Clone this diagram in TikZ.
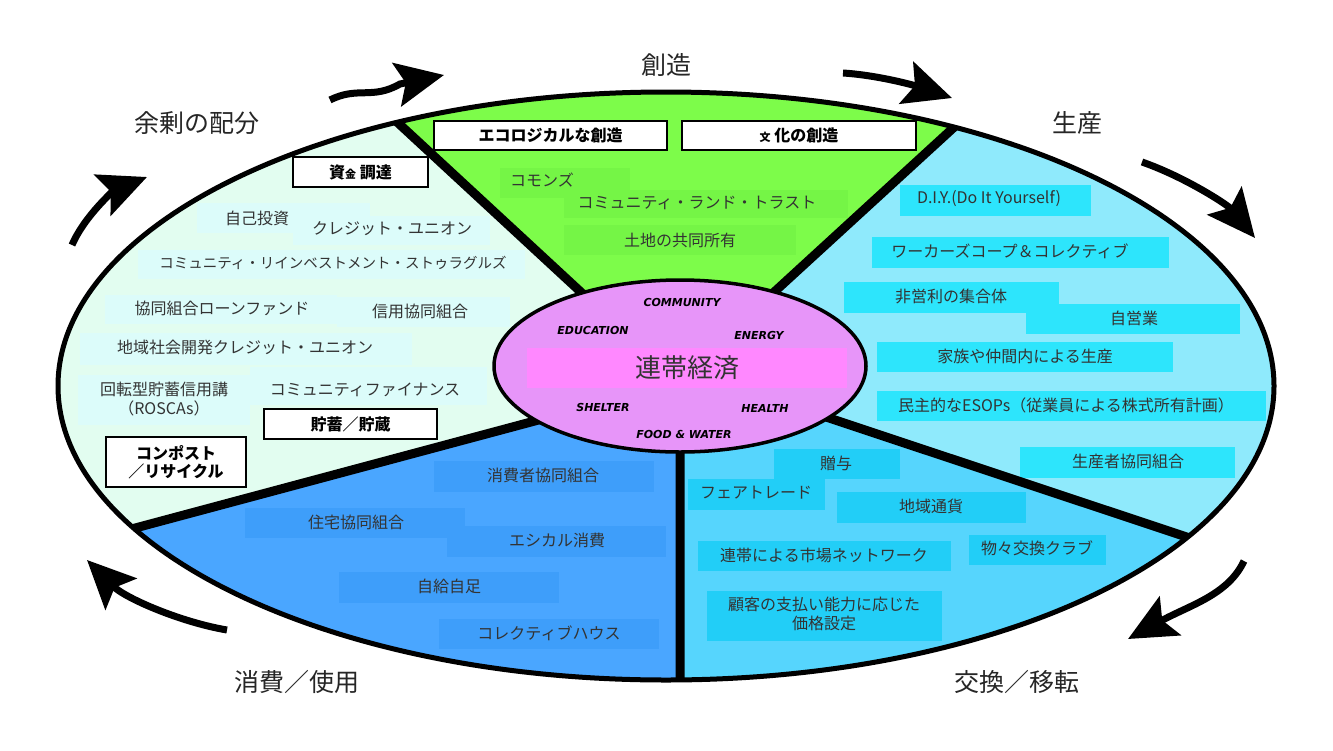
\documentclass[tikz,border=0pt]{standalone}
\usepackage{fontspec}
\setmainfont{Noto Sans CJK JP}
\newfontfamily\capsfont{DejaVu Sans}
\usetikzlibrary{arrows.meta}
\usepackage{xcolor}
\definecolor{mintbg}{RGB}{226,253,240}
\definecolor{mintbox}{RGB}{220,252,250}
\definecolor{greenbg}{RGB}{125,252,74}
\definecolor{greenbox}{RGB}{117,245,70}
\definecolor{cyanbg}{RGB}{143,234,252}
\definecolor{cyanbox}{RGB}{45,229,252}
\definecolor{skybg}{RGB}{86,213,253}
\definecolor{skybox}{RGB}{34,206,247}
\definecolor{bluebg}{RGB}{74,166,255}
\definecolor{bluebox}{RGB}{62,158,250}
\definecolor{violetbg}{RGB}{231,149,249}
\definecolor{pinkbox}{RGB}{255,136,255}
\tikzset{
	>={Stealth[length=48pt, width=44pt, inset=9pt]},
	flow/.style={->, line width=7pt},
	divider/.style={line width=9pt},
	phase/.style={font=\fontsize{25}{28}\selectfont, text=black!85},
	entry/.style={font=\fontsize{16}{19}\selectfont, text=black!80, inner sep=0pt, align=center},
	titlebox/.style={draw, fill=white, line width=1.5pt, inner sep=0pt, align=center, font=\bfseries\fontsize{16}{18}\selectfont},
	need/.style={font=\capsfont\bfseries\itshape\fontsize{11}{13}\selectfont}}

\begin{document}
\begin{tikzpicture}[x=1pt, y=-1pt]
		\useasboundingbox (0,0) rectangle (1333,750);
		\coordinate (O) at (666,386);
		\coordinate (C) at (680,366);
		\coordinate (l1i) at (610,319); \coordinate (l1o) at (157,-100);
		\coordinate (l2i) at (748,316); \coordinate (l2o) at (1202,-100);
		\coordinate (l3i) at (775,400); \coordinate (l3o) at (1400,608);
		\coordinate (l4i) at (680,430); \coordinate (l4o) at (680,800);
		\coordinate (l5i) at (587,407); \coordinate (l5o) at (-100,591);
		
		%sectors
		\begin{scope}
			\clip (O) ellipse [x radius=608pt, y radius=294pt];
			\fill[mintbg] (O) ellipse [x radius=608pt, y radius=294pt];
			\fill[greenbg] (C) -- (l1i) -- (l1o) -- (l2o) -- (l2i) -- cycle;
			\fill[cyanbg] (C) -- (l2i) -- (l2o) -- (1400,-100) -- (l3o) -- (l3i) -- cycle;
			\fill[skybg] (C) -- (l3i) -- (l3o) -- (1400,800) -- (l4o) -- (l4i) -- cycle;
			\fill[bluebg] (C) -- (l4i) -- (l4o) -- (-100,800) -- (l5o) -- (l5i) -- cycle;
			
			%item boxes
			\foreach \xa/\ya/\xb/\yb in {197/203/370/233, 293/216/490/245, 138/250/525/279, 105/295/337/324, 337/297/510/327, 80/333/412/365, 78/375/250/425, 250/367/487/405}
				\fill[mintbox] (\xa,\ya) rectangle (\xb,\yb);
			\foreach \xa/\ya/\xb/\yb in {500/168/630/198, 564/190/848/218, 564/225/796/255}
				\fill[greenbox] (\xa,\ya) rectangle (\xb,\yb);
			\foreach \xa/\ya/\xb/\yb in {900/185/1091/216, 872/237/1169/268, 844/282/1059/313, 1026/304/1240/334, 877/342/1173/372, 877/391/1266/421, 1020/447/1235/478}
				\fill[cyanbox] (\xa,\ya) rectangle (\xb,\yb);
			\foreach \xa/\ya/\xb/\yb in {774/449/900/479, 688/479/825/510, 837/492/1026/523, 698/541/951/571, 969/535/1106/565, 707/591/942/641}
				\fill[skybox] (\xa,\ya) rectangle (\xb,\yb);
			\foreach \xa/\ya/\xb/\yb in {434/461/654/492, 245/508/465/538, 447/526/666/557, 339/572/559/603, 439/619/659/649}
				\fill[bluebox] (\xa,\ya) rectangle (\xb,\yb);
			
			\draw[divider] (l1i) -- (l1o) (l2i) -- (l2o) (l3i) -- (l3o) (l4i) -- (l4o) (l5i) -- (l5o);
		\end{scope}
		\draw[line width=5pt] (O) ellipse [x radius=608pt, y radius=294pt];
		
		%centre
		\draw[fill=violetbg, line width=3.5pt] (C) ellipse [x radius=186pt, y radius=86pt];
		\fill[pinkbox] (527,348) rectangle (847,388);
		\node[entry, font=\fontsize{26}{28}\selectfont] (core) at (687,368) {連帯経済};
		\node[need] (n1) at (682,302) {COMMUNITY};
		\node[need] (n2) at (593,330) {EDUCATION};
		\node[need] (n3) at (759,335) {ENERGY};
		\node[need] (n4) at (603,407) {SHELTER};
		\node[need] (n5) at (765,408) {HEALTH};
		\node[need] (n6) at (684,434) {FOOD \& WATER};
		
		%LHS
		\node[titlebox, minimum width=135pt, minimum height=30pt] (t1) at (360.5,172) {資{\fontsize{11}{12}\selectfont 金} 調達};
		\node[entry] (e1) at (257,218) {自己投資};
		\node[entry] (e2) at (392,229) {クレジット・ユニオン};
		\node[entry, font=\fontsize{14.5}{17}\selectfont] (e3) at (333,263) {コミュニティ・リインベストメント・ストゥラグルズ};
		\node[entry] (e4) at (222,308) {協同組合ローンファンド};
		\node[entry] (e5) at (420,311) {信用協同組合};
		\node[entry] (e6) at (245,347) {地域社会開発クレジット・ユニオン};
		\node[entry] (e7) at (164,399) {回転型貯蓄信用講\\（ROSCAs）};
		\node[entry] (e8) at (365,390) {コミュニティファイナンス};
		\node[titlebox, minimum width=173pt, minimum height=30pt] (t2) at (350.5,424) {貯蓄／貯蔵};
		\node[titlebox, minimum width=140pt, minimum height=50pt] (t3) at (176,462) {コンポスト\\／リサイクル};
		
		%top
		\node[titlebox, minimum width=233pt, minimum height=29pt] (t4) at (550.5,135.5) {エコロジカルな創造};
		\node[titlebox, minimum width=234pt, minimum height=29pt] (t5) at (799,135.5) {{\fontsize{11}{12}\selectfont 文} 化の創造};
		\node[entry] (g1) at (542,180) {コモンズ};
		\node[entry] (g2) at (697,203) {コミュニティ・ランド・トラスト};
		\node[entry] (g3) at (680,240) {土地の共同所有};
		
		%RHS
		\node[entry] (p1) at (989,199) {D.I.Y.(Do It Yourself)};
		\node[entry] (p2) at (1010,251) {ワーカーズコープ＆コレクティブ};
		\node[entry] (p3) at (951,296) {非営利の集合体};
		\node[entry] (p4) at (1134,318) {自営業};
		\node[entry] (p5) at (1025,356) {家族や仲間内による生産};
		\node[entry] (p6) at (1066,405) {民主的なESOPs（従業員による株式所有計画）};
		\node[entry] (p7) at (1128,461) {生産者協同組合};
		
		%bottom
		\node[entry] (x1) at (836,463) {贈与};
		\node[entry] (x2) at (756,493) {フェアトレード};
		\node[entry] (x3) at (931,506) {地域通貨};
		\node[entry] (x4) at (824,555) {連帯による市場ネットワーク};
		\node[entry] (x5) at (1037,548) {物々交換クラブ};
		\node[entry] (x6) at (824,614) {顧客の支払い能力に応じた\\価格設定};
		\node[entry] (u1) at (543,475) {消費者協同組合};
		\node[entry] (u2) at (356,522) {住宅協同組合};
		\node[entry] (u3) at (557,540) {エシカル消費};
		\node[entry] (u4) at (449,586) {自給自足};
		\node[entry] (u5) at (549,633) {コレクティブハウス};
		
		%cycle
		\node[phase] (s1) at (666,65) {創造};
		\node[phase] (s2) at (1077,123) {生産};
		\node[phase] (s3) at (1017,682) {交換／移転};
		\node[phase] (s4) at (297,682) {消費／使用};
		\node[phase] (s5) at (197,123) {余剰の配分};
		
		\coordinate (a1s) at (330,100); \coordinate (a1e) at (444,75);
		\coordinate (a2s) at (843,73); \coordinate (a2e) at (952,98);
		\coordinate (a3s) at (1142,162); \coordinate (a3e) at (1255,238);
		\coordinate (a4s) at (1244,561); \coordinate (a4e) at (1128,639);
		\coordinate (a5s) at (227,630); \coordinate (a5e) at (87,560);
		\coordinate (a6s) at (72,245); \coordinate (a6e) at (147,177);
		\draw[flow] (a1s) .. controls (358,86) and (372,100) .. (400,84) -- (a1e);
		\draw[flow] (a2s) .. controls (875,75) and (910,84) .. (a2e);
		\draw[flow] (a3s) .. controls (1185,177) and (1228,205) .. (a3e);
		\draw[flow] (a4s) .. controls (1228,595) and (1190,605) .. (a4e);
		\draw[flow] (a5s) .. controls (180,622) and (125,598) .. (a5e);
		\draw[flow] (a6s) .. controls (85,215) and (115,190) .. (a6e);
	\end{tikzpicture}
\end{document}
